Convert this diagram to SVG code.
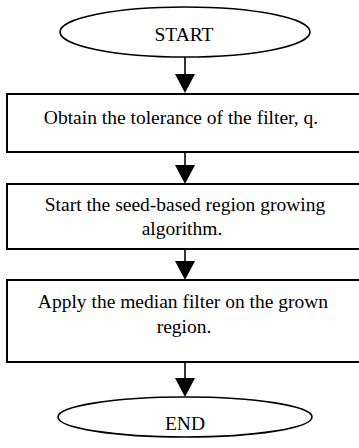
<svg xmlns="http://www.w3.org/2000/svg" width="359" height="448" viewBox="0 0 359 448">
<style>
.box{fill:#fff;stroke:#000;stroke-width:2}
.term{fill:#fff;stroke:#000;stroke-width:1.6}
.t{font-family:"Liberation Serif","Times New Roman",serif;font-size:19.5px;fill:#000;text-anchor:middle}
.ln{stroke:#000;stroke-width:1.6;fill:none}
.ah{fill:#000}
</style>
<rect width="359" height="448" fill="#fff"/>
<g id="connectors">
<line class="ln" x1="185" y1="57" x2="185" y2="78"/>
<polygon class="ah" points="175,74 195,74 185,93"/>
<line class="ln" x1="185" y1="152" x2="185" y2="168"/>
<polygon class="ah" points="175,165 195,165 185,184"/>
<line class="ln" x1="185" y1="249" x2="185" y2="265"/>
<polygon class="ah" points="175,261 195,261 185,280"/>
<line class="ln" x1="185" y1="362" x2="185" y2="382"/>
<polygon class="ah" points="175,378 195,378 185,397"/>
</g>
<g id="start">
<ellipse class="term" cx="185" cy="32" rx="125" ry="25"/>
<text class="t" x="184" y="41">START</text>
</g>
<g id="step1">
<rect class="box" x="7" y="94" width="420" height="58"/>
<text class="t" x="181" y="124">Obtain the tolerance of the filter, q.</text>
</g>
<g id="step2">
<rect class="box" x="7" y="184" width="420" height="65"/>
<text class="t" x="185" y="211">Start the seed-based region growing</text>
<text class="t" x="182" y="235">algorithm.</text>
</g>
<g id="step3">
<rect class="box" x="7" y="280" width="420" height="82"/>
<text class="t" x="183" y="308">Apply the median filter on the grown</text>
<text class="t" x="184" y="333">region.</text>
</g>
<g id="end">
<ellipse class="term" cx="185" cy="417" rx="127" ry="20"/>
<text class="t" x="185" y="430">END</text>
</g>
</svg>
